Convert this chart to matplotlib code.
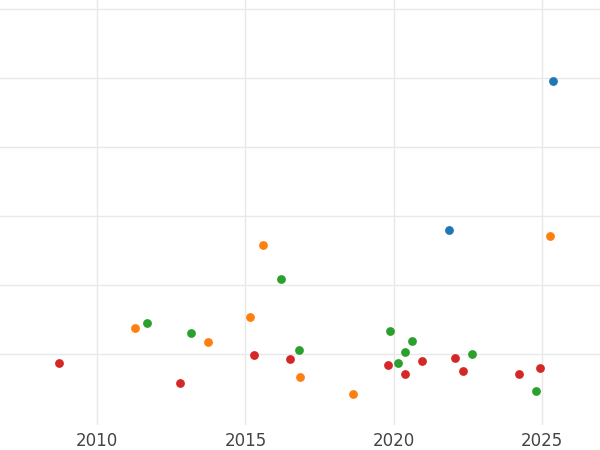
import matplotlib
matplotlib.use("Agg")
import matplotlib.pyplot as plt

blue_x = [2025.37, 2021.86]
blue_y = [4.96, 2.80]
orange_x = [2011.28, 2013.74, 2015.16, 2015.59, 2016.84, 2018.63, 2025.27]
orange_y = [1.38, 1.17, 1.54, 2.58, 0.67, 0.43, 2.71]
green_x = [2011.69, 2013.17, 2016.20, 2016.81, 2019.88, 2020.14, 2020.38, 2020.62, 2022.64, 2024.80]
green_y = [1.45, 1.30, 2.09, 1.06, 1.33, 0.87, 1.03, 1.19, 1.00, 0.46]
red_x = [2008.72, 2012.80, 2015.29, 2016.50, 2019.81, 2020.38, 2020.95, 2022.07, 2022.34, 2024.22, 2024.93]
red_y = [0.87, 0.58, 0.99, 0.93, 0.84, 0.71, 0.90, 0.94, 0.75, 0.71, 0.80]
xticks = [2010, 2015, 2020, 2025]

fig = plt.figure(figsize=(6, 4.5), dpi=100)
ax = fig.add_axes([0, 0.055, 1, 0.945])
for xs, ys, c in [(blue_x, blue_y, '#1f77b4'), (orange_x, orange_y, '#ff7f0e'),
                  (green_x, green_y, '#2ca02c'), (red_x, red_y, '#d62728')]:
    ax.scatter(xs, ys, s=40, color=c, zorder=3, linewidths=0)
ax.set_xlim(2006.73, 2026.95)
ax.set_ylim(-2 / 69, 423 / 69)
ax.set_xticks(xticks)
ax.set_xticklabels([str(t) for t in xticks])
ax.set_yticks([1, 2, 3, 4, 5, 6])
ax.set_yticklabels([])
ax.grid(True, color='#e8e8e8', linewidth=1)
ax.tick_params(length=0, labelsize=12, labelcolor='#444444', pad=5)
for s in ax.spines.values():
    s.set_visible(False)
fig.savefig('out.png', dpi=100)
